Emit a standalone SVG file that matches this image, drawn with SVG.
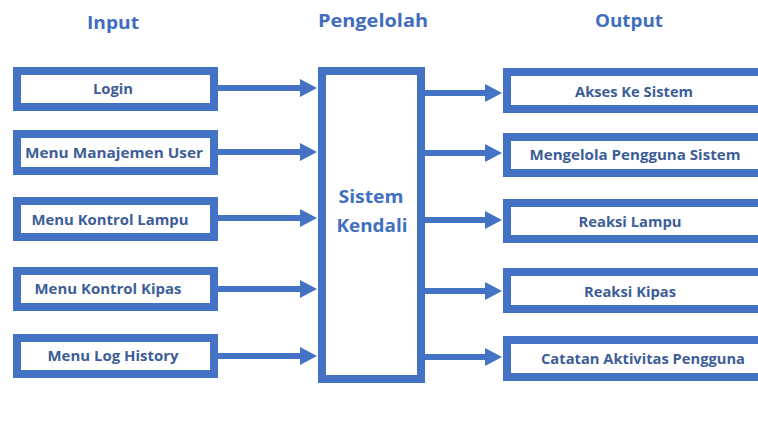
<svg xmlns="http://www.w3.org/2000/svg" width="758" height="446" viewBox="0 0 758 446">
  <style>
    .box { fill: #ffffff; stroke: #4472C4; stroke-width: 8; }
    .conn { stroke: #4472C4; stroke-width: 6; fill: none; }
    .head { fill: #4472C4; }
    .title { font-family: "Open Sans", "Liberation Sans", sans-serif; font-weight: bold; font-size: 18px; fill: #3F6EBE; text-anchor: middle; }
    .lbl { font-family: "Open Sans", "Liberation Sans", sans-serif; font-weight: bold; font-size: 14px; fill: #3D5D98; text-anchor: middle; }
    .core { font-family: "Open Sans", "Liberation Sans", sans-serif; font-weight: bold; font-size: 18px; fill: #4070BF; text-anchor: middle; }
  </style>
  <rect width="758" height="446" fill="#ffffff"/>

  <g id="titles">
    <text class="title" x="113" y="29" textLength="52" lengthAdjust="spacingAndGlyphs">Input</text>
    <text class="title" x="373" y="27" textLength="110" lengthAdjust="spacingAndGlyphs">Pengelolah</text>
    <text class="title" x="629" y="27" textLength="68" lengthAdjust="spacingAndGlyphs">Output</text>
  </g>

  <g id="connectors">
    <line class="conn" x1="218" y1="88" x2="302" y2="88"/>
    <polygon class="head" points="300,79 317,88 300,97"/>
    <line class="conn" x1="218" y1="152" x2="302" y2="152"/>
    <polygon class="head" points="300,143 317,152 300,161"/>
    <line class="conn" x1="218" y1="218" x2="302" y2="218"/>
    <polygon class="head" points="300,209 317,218 300,227"/>
    <line class="conn" x1="218" y1="289" x2="302" y2="289"/>
    <polygon class="head" points="300,280 317,289 300,298"/>
    <line class="conn" x1="218" y1="356" x2="302" y2="356"/>
    <polygon class="head" points="300,347 317,356 300,365"/>

    <line class="conn" x1="425" y1="93" x2="487" y2="93"/>
    <polygon class="head" points="485,84 502,93 485,102"/>
    <line class="conn" x1="425" y1="153" x2="487" y2="153"/>
    <polygon class="head" points="485,144 502,153 485,162"/>
    <line class="conn" x1="425" y1="220" x2="487" y2="220"/>
    <polygon class="head" points="485,211 502,220 485,229"/>
    <line class="conn" x1="425" y1="291" x2="487" y2="291"/>
    <polygon class="head" points="485,282 502,291 485,300"/>
    <line class="conn" x1="425" y1="357" x2="487" y2="357"/>
    <polygon class="head" points="485,348 502,357 485,366"/>
  </g>

  <g id="in-login">
    <rect class="box" x="17" y="71" width="197" height="36"/>
    <text class="lbl" x="113" y="94" textLength="40" lengthAdjust="spacingAndGlyphs">Login</text>
  </g>
  <g id="in-user">
    <rect class="box" x="17" y="134" width="197" height="37"/>
    <text class="lbl" x="114" y="158" textLength="178" lengthAdjust="spacingAndGlyphs">Menu Manajemen User</text>
  </g>
  <g id="in-lampu">
    <rect class="box" x="17" y="201" width="197" height="36"/>
    <text class="lbl" x="110" y="225" textLength="157" lengthAdjust="spacingAndGlyphs">Menu Kontrol Lampu</text>
  </g>
  <g id="in-kipas">
    <rect class="box" x="17" y="271" width="197" height="36"/>
    <text class="lbl" x="108" y="294" textLength="147" lengthAdjust="spacingAndGlyphs">Menu Kontrol Kipas</text>
  </g>
  <g id="in-log">
    <rect class="box" x="17" y="338" width="197" height="36"/>
    <text class="lbl" x="113" y="361" textLength="131" lengthAdjust="spacingAndGlyphs">Menu Log History</text>
  </g>

  <g id="core">
    <rect class="box" x="322" y="71" width="99" height="308"/>
    <text class="core" x="371" y="203" textLength="65" lengthAdjust="spacingAndGlyphs">Sistem</text>
    <text class="core" x="372" y="232" textLength="71" lengthAdjust="spacingAndGlyphs">Kendali</text>
  </g>

  <g id="out-akses">
    <rect class="box" x="507" y="72" width="270" height="37"/>
    <text class="lbl" x="634" y="97" textLength="118" lengthAdjust="spacingAndGlyphs">Akses Ke Sistem</text>
  </g>
  <g id="out-pengguna">
    <rect class="box" x="507" y="137" width="270" height="36"/>
    <text class="lbl" x="635" y="160" textLength="211" lengthAdjust="spacingAndGlyphs">Mengelola Pengguna Sistem</text>
  </g>
  <g id="out-lampu">
    <rect class="box" x="507" y="203" width="270" height="36"/>
    <text class="lbl" x="630" y="227" textLength="103" lengthAdjust="spacingAndGlyphs">Reaksi Lampu</text>
  </g>
  <g id="out-kipas">
    <rect class="box" x="507" y="272" width="270" height="37"/>
    <text class="lbl" x="630" y="297" textLength="92" lengthAdjust="spacingAndGlyphs">Reaksi Kipas</text>
  </g>
  <g id="out-catatan">
    <rect class="box" x="507" y="340" width="270" height="37"/>
    <text class="lbl" x="643" y="364" textLength="204" lengthAdjust="spacingAndGlyphs">Catatan Aktivitas Pengguna</text>
  </g>
</svg>
